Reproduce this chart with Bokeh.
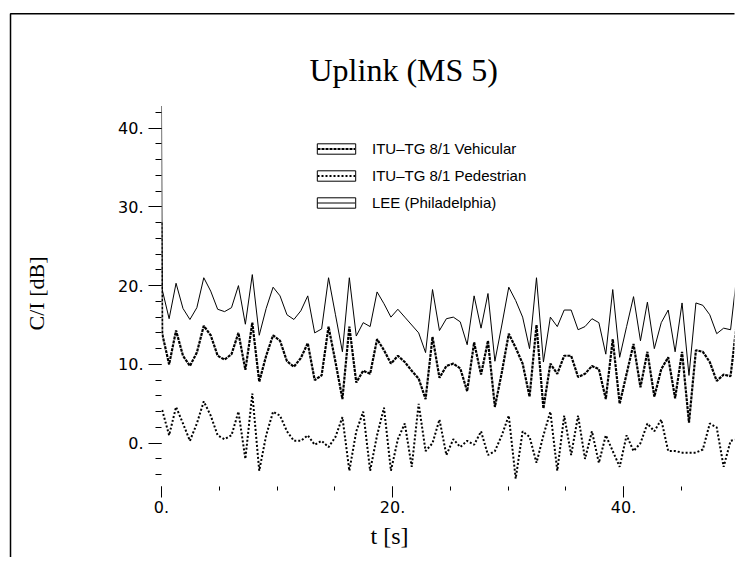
from bokeh.plotting import figure
from bokeh.models import (Range1d, FixedTicker, Legend, LegendItem, Title,
                          CustomJSTickFormatter)
from bokeh.embed import file_html
from bokeh.resources import INLINE

# ---- data -------------------------------------------------------------
# sample times [s]; the first entry is the start-up sample at t = 0
t = [0.0] + [round(0.06 + 0.6 * i, 2) for i in range(84)]

lee_start = 42.8
lee = [19.5, 15.8, 20.3, 17.1, 15.7, 17.2, 21.0, 19.3, 17.0, 16.7, 17.2, 20.0, 15.1, 21.4,
       13.7, 17.1, 19.8, 18.7, 16.3, 15.7, 16.8, 18.7, 14.0, 14.5, 21.0, 16.3, 11.6,
       21.0, 13.6, 15.3, 14.8, 19.2, 17.7, 16.0, 17.0, 16.0, 15.0, 14.0, 11.5, 19.5, 14.3,
       15.8, 16.0, 15.4, 12.5, 18.7, 14.6, 19.0, 10.4, 15.0, 19.8, 18.1, 16.0, 12.0, 21.0,
       10.3, 16.0, 14.8, 16.9, 16.9, 14.4, 14.8, 15.8, 15.3, 11.3, 19.5, 10.9, 14.8, 18.6,
       13.0, 17.9, 12.0, 15.3, 16.9, 11.6, 17.8, 8.6, 17.8, 17.5, 16.3, 13.9, 14.6, 14.4, 22.1]

veh_start = 28.0
vehicular = [13.9, 10.0, 14.3, 11.1, 9.8, 11.5, 14.9, 13.7, 11.1, 10.6, 11.3, 14.0, 9.3, 15.3,
             7.8, 11.1, 13.7, 13.0, 10.4, 9.7, 10.8, 12.7, 8.0, 8.6, 14.8, 10.3, 5.6,
             14.8, 7.7, 9.2, 8.8, 13.2, 11.8, 10.1, 11.1, 10.3, 9.2, 8.2, 5.6, 13.5, 8.3,
             9.8, 10.1, 9.5, 6.6, 12.8, 8.7, 13.0, 4.6, 9.0, 13.9, 12.1, 10.1, 5.9, 15.0,
             4.4, 10.1, 8.8, 11.1, 11.1, 8.4, 8.8, 9.8, 9.4, 5.6, 13.2, 5.0, 8.8, 12.6,
             7.1, 11.6, 5.9, 9.4, 10.9, 5.7, 11.6, 2.6, 11.8, 11.6, 10.3, 7.9, 8.7, 8.5, 16.1]

pedestrian = [4.2, 1.0, 4.6, 2.5, 0.3, 2.5, 5.3, 3.5, 1.0, 0.5, 1.0, 4.0, -2.0, 6.3,
              -3.5, 1.0, 4.0, 3.5, 1.5, 0.3, 0.3, 1.0, -0.2, 0.3, -0.5, 0.8, 3.3, -3.5,
              1.5, 4.0, -3.5, 1.0, 4.5, -3.5, 0.5, 2.5, -3.0, 5.0, -1.0, 0.0, 3.0, -1.5,
              0.5, -0.5, 0.3, -0.2, 1.5, -1.5, -1.0, 1.0, 3.5, -4.5, 1.5, 0.8, -2.5, 1.0,
              4.0, -3.5, 3.5, -1.5, 3.5, -2.0, 1.5, -2.5, 1.0, -1.0, -3.0, 1.0, -1.0, 0.0,
              2.5, 1.5, 3.0, -1.0, -1.0, -1.2, -1.2, -1.2, -0.8, 2.5, 2.0, -3.0, 0.3, 0.5]

x_major = [0, 20, 40]
x_minor = [0, 5, 10, 15, 20, 25, 30, 35, 40, 45, 50]
y_major = [0, 10, 20, 30, 40]
y_minor = [-4, -2, 0, 2, 4, 6, 8, 10, 12, 14, 16, 18, 20, 22, 24, 26, 28, 30, 32, 34,
           36, 38, 40, 42]

title_text = "Uplink (MS 5)"
x_label = "t [s]"
y_label = "C/I [dB]"
names = ["ITU\u2013TG 8/1 Vehicular", "ITU\u2013TG 8/1 Pedestrian", "LEE (Philadelphia)"]

# ---- figure -----------------------------------------------------------
p = figure(width=736, height=557, output_backend="svg", toolbar_location=None,
           x_range=Range1d(0, 49.6), y_range=Range1d(-5.5, 43.5),
           min_border_left=161, min_border_right=2, min_border_top=100,
           min_border_bottom=71)
p.background_fill_color = "white"
p.border_fill_color = "white"
p.outline_line_color = None
p.grid.visible = False

fmt = CustomJSTickFormatter(code="return tick.toFixed(0) + '.'")

xa = p.xaxis[0]
xa.ticker = FixedTicker(ticks=x_major, minor_ticks=x_minor)
xa.formatter = fmt
xa.axis_line_color = None
xa.major_tick_in = 0
xa.major_tick_out = 11
xa.minor_tick_in = 0
xa.minor_tick_out = 4
xa.major_label_standoff = 3
xa.major_label_text_font = "DejaVu Sans"
xa.major_label_text_font_size = "16px"
xa.major_label_text_color = "black"

ya = p.yaxis[0]
ya.ticker = FixedTicker(ticks=y_major, minor_ticks=y_minor)
ya.formatter = fmt
ya.axis_line_color = None
ya.major_tick_in = 0
ya.major_tick_out = 13
ya.minor_tick_in = 0
ya.minor_tick_out = 6
ya.major_label_standoff = 5
ya.major_label_text_font = "DejaVu Sans"
ya.major_label_text_font_size = "16px"
ya.major_label_text_color = "black"
ya.axis_label = y_label
ya.axis_label_text_font = "Liberation Serif"
ya.axis_label_text_font_style = "normal"
ya.axis_label_text_font_size = "22px"
ya.axis_label_text_color = "black"
ya.axis_label_standoff = 66

# ---- series -----------------------------------------------------------
r_lee = p.line(t, [lee_start] + lee, line_color="black", line_width=1)
r_veh = p.line(t, [veh_start] + vehicular, line_color="black", line_width=2.2,
               line_dash="3 1")
r_ped = p.line(t[1:], pedestrian, line_color="black", line_width=2, line_dash="2 2")

# legend: outlined boxes overlaid by line samples with labels
nan = float("nan")
box = p.quad(left=[nan], right=[nan], top=[nan], bottom=[nan], fill_color=None,
             line_color="black", line_width=1)
leg_box = Legend(items=[LegendItem(label="", renderers=[box]) for n in names],
                 location=(151, 274), glyph_width=48, glyph_height=13,
                 label_height=20, spacing=7, padding=0, margin=0,
                 label_text_font_size="15px",
                 border_line_color=None, background_fill_alpha=0)
leg_line = Legend(items=[LegendItem(label=names[0], renderers=[r_veh]),
                         LegendItem(label=names[1], renderers=[r_ped]),
                         LegendItem(label=names[2], renderers=[r_lee])],
                  location=(156, 274), glyph_width=38, glyph_height=13,
                  label_height=20, spacing=7, padding=0, margin=0,
                  label_standoff=17, label_text_font="Liberation Sans",
                  label_text_font_size="15px", label_text_color="black",
                  border_line_color=None, background_fill_alpha=0)
p.add_layout(leg_box)
p.add_layout(leg_line)

# picture border (left and top edges), drawn above the frame clip
p.line([49.6, -13.07, -13.07], [54.5, 54.5, -14.5], line_color="black",
       line_width=1.5, level="overlay")

# title and x-axis caption
p.add_layout(Title(text=title_text, align="left", offset=148, standoff=26,
                   text_font="Liberation Serif", text_font_style="normal",
                   text_font_size="32px", text_color="black"), "above")
p.add_layout(Title(text=x_label, align="left", offset=209, standoff=10,
                   text_font="Liberation Serif", text_font_style="normal",
                   text_font_size="24px", text_color="black"), "below")

open("out.html", "w").write(file_html(p, INLINE))
